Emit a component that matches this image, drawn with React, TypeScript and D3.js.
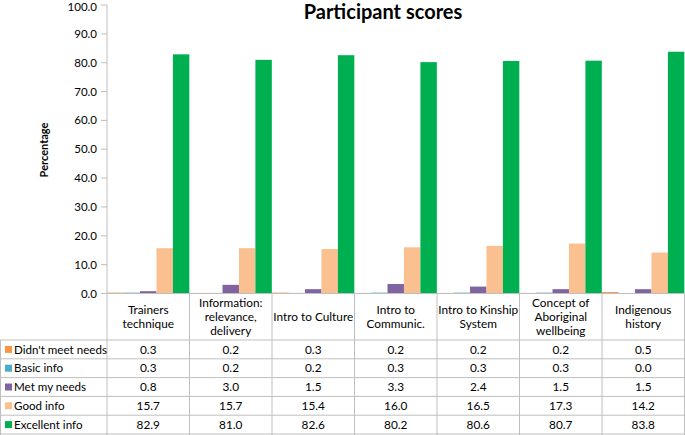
import React from "react";
import * as d3 from "d3";

const categories = [
  "Trainers technique",
  "Information: relevance, delivery",
  "Intro to Culture",
  "Intro to Communic.",
  "Intro to Kinship System",
  "Concept of Aboriginal wellbeing",
  "Indigenous history",
];
const categoryLines = [
  ["Trainers", "technique"],
  ["Information:", "relevance,", "delivery"],
  ["Intro to Culture"],
  ["Intro to", "Communic."],
  ["Intro to Kinship", "System"],
  ["Concept of", "Aboriginal", "wellbeing"],
  ["Indigenous", "history"],
];
const seriesNames = ["Didn't meet needs", "Basic info", "Met my needs", "Good info", "Excellent info"];
const seriesColors = ["#F79646", "#4BACC6", "#8064A2", "#FAC090", "#00B050"];
const didntMeet = [0.3, 0.2, 0.3, 0.2, 0.2, 0.2, 0.5];
const basicInfo = [0.3, 0.2, 0.2, 0.3, 0.3, 0.3, 0.0];
const metNeeds = [0.8, 3.0, 1.5, 3.3, 2.4, 1.5, 1.5];
const goodInfo = [15.7, 15.7, 15.4, 16.0, 16.5, 17.3, 14.2];
const excellentInfo = [82.9, 81.0, 82.6, 80.2, 80.6, 80.7, 83.8];
const seriesValues = [didntMeet, basicInfo, metNeeds, goodInfo, excellentInfo];
const yTicks = [0, 10, 20, 30, 40, 50, 60, 70, 80, 90, 100];

const W = 685;
const H = 435;
const FONT = "Lato, 'Open Sans', sans-serif";

export default function App() {
  const left = 107;
  const right = 684.5;
  const top = 5;
  const bottom = 293.5;
  const headerBottom = 340;
  const rowH = 18.8;

  const x = d3.scaleBand().domain(categories).range([left, right]).paddingInner(0).paddingOuter(0);
  const xs = d3.scaleBand().domain(seriesNames).range([0, x.bandwidth()]).paddingInner(0).paddingOuter(0.01);
  const y = d3.scaleLinear().domain([0, 100]).range([bottom, top]);
  const grid = "#BFBFBF";

  return (
    <svg width={W} height={H} style={{ position: "absolute", left: 0, top: 0, background: "#fff" }} fontFamily={FONT}>
      <text x={383} y={19} textAnchor="middle" fontSize={20} fontWeight="bold" fill="#000">
        Participant scores
      </text>
      <text transform={`translate(48,150) rotate(-90)`} textAnchor="middle" fontSize={11} fontWeight="bold" fill="#000">
        Percentage
      </text>
      {/* y axis ticks */}
      {yTicks.map((t) => (
        <g key={t}>
          <line x1={101} x2={left} y1={y(t)} y2={y(t)} stroke={grid} />
          <text x={97} y={Math.max(y(t) + 4, 11)} textAnchor="end" fontSize={11.5} fill="#000">
            {t.toFixed(1)}
          </text>
        </g>
      ))}
      {/* bars */}
      {categories.map((c, ci) => (
        <g key={c} transform={`translate(${x(c)},0)`}>
          {seriesNames.map((s, si) => {
            const v = seriesValues[si][ci];
            return (
              <rect
                key={s}
                x={xs(s)}
                width={xs.bandwidth()}
                y={y(v)}
                height={bottom - y(v)}
                fill={seriesColors[si]}
              />
            );
          })}
        </g>
      ))}
      {/* axis line */}
      <line x1={left} x2={left} y1={top} y2={H} stroke={grid} />
      <line x1={left} x2={right} y1={bottom} y2={bottom} stroke={grid} />
      {/* table vertical lines */}
      {categories.map((c, ci) => (
        <line key={c} x1={(x(c) as number) + x.bandwidth()} x2={(x(c) as number) + x.bandwidth()} y1={bottom} y2={H} stroke={grid} />
      ))}
      <line x1={0.5} x2={0.5} y1={headerBottom} y2={H} stroke={grid} />
      {/* table horizontal lines */}
      {d3.range(seriesNames.length + 1).map((i) => (
        <line key={i} x1={0} x2={right} y1={headerBottom + i * rowH} y2={headerBottom + i * rowH} stroke={grid} />
      ))}
      {/* header labels */}
      {categories.map((c, ci) => {
        const lines = categoryLines[ci];
        const cx = (x(c) as number) + x.bandwidth() / 2;
        const cy = (bottom + headerBottom) / 2;
        const lh = 14.3;
        return (
          <text key={c} textAnchor="middle" fontSize={11.8} fill="#000">
            {lines.map((l, li) => (
              <tspan key={li} x={cx} y={cy + (li - (lines.length - 1) / 2) * lh + 4.3}>
                {l}
              </tspan>
            ))}
          </text>
        );
      })}
      {/* rows */}
      {seriesNames.map((s, si) => {
        const cy = headerBottom + si * rowH + rowH / 2;
        return (
          <g key={s}>
            <rect x={5} y={cy - 3.5} width={7} height={7} fill={seriesColors[si]} />
            <text x={14} y={cy + 4.2} fontSize={11.6} fill="#000">
              {s}
            </text>
            {categories.map((c, ci) => (
              <text key={c} x={(x(c) as number) + x.bandwidth() / 2} y={cy + 4.2} textAnchor="middle" fontSize={11.8} fill="#000">
                {seriesValues[si][ci].toFixed(1)}
              </text>
            ))}
          </g>
        );
      })}
    </svg>
  );
}
